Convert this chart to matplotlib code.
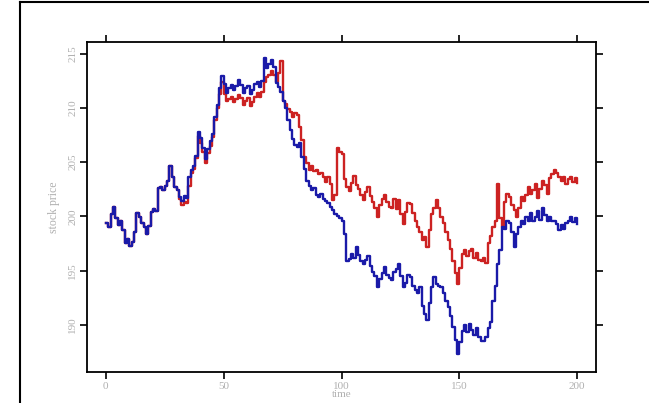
import numpy as np
import matplotlib.pyplot as plt
from matplotlib.lines import Line2D

# DATA
time = np.arange(0, 201)
blue_price = [
    199.4, 199.0, 200.2, 200.9, 199.8, 199.2, 199.6, 198.7, 197.5, 197.9,
    197.3, 197.6, 198.6, 200.3, 199.9, 199.4, 199.0, 198.4, 199.1, 200.4,
    200.7, 200.5, 202.6, 202.7, 202.4, 202.8, 203.3, 204.6, 203.6, 202.7,
    202.4, 201.8, 201.4, 201.9, 201.7, 203.6, 204.3, 204.6, 205.6, 207.8,
    207.2, 206.3, 205.3, 206.2, 206.9, 207.6, 209.2, 210.3, 211.8, 212.9,
    212.2, 211.4, 211.8, 212.1, 211.6, 212.0, 212.6, 212.1, 211.4, 211.8,
    212.0, 211.3, 211.6, 212.2, 212.4, 211.9, 212.5, 214.6, 213.7, 214.0,
    214.4, 213.8, 212.3, 211.9, 211.5, 210.6, 210.0, 208.9, 208.0, 207.1,
    206.6, 206.4, 206.8, 205.5, 204.4, 203.3, 202.8, 202.4, 202.6, 202.0,
    201.8, 202.1, 201.6, 201.4, 201.2, 200.9, 200.6, 200.2, 200.0, 199.8,
    199.6, 198.4, 195.9, 196.1, 196.5, 196.2, 197.2, 196.4, 195.9, 195.6,
    196.0, 196.3, 195.4, 194.9, 194.5, 193.5, 194.2, 194.8, 195.3, 194.6,
    194.3, 194.1, 194.9, 195.1, 195.6, 194.5, 193.5, 193.9, 194.6, 194.4,
    193.6, 193.2, 192.9, 193.5, 191.7, 191.0, 190.4, 192.0, 193.5, 194.4,
    193.8, 193.6, 193.5, 192.9, 192.2, 191.6, 190.8, 189.8, 188.6, 187.3,
    188.4, 189.4, 190.0, 189.3, 190.1, 189.5, 189.1, 189.7, 188.9, 188.5,
    188.5, 188.9, 189.7, 190.3, 192.2, 193.6, 195.6, 196.9, 199.0, 198.8,
    199.6, 199.4, 198.6, 197.2, 198.4, 199.0, 199.6, 199.3, 199.9, 199.6,
    200.3, 199.6, 199.9, 200.5, 199.7, 200.8, 200.1, 199.6, 199.9, 199.6,
    199.6, 199.3, 198.7, 199.2, 198.8, 199.4, 199.6, 199.9, 199.5, 199.8,
    199.3,
]
red_price = blue_price[:30] + [
    202.4, 201.6, 201.0, 201.3, 201.2, 202.8, 204.0, 204.4, 205.4, 207.4,
    206.8, 205.9, 204.9, 205.8, 206.5, 207.3, 208.9, 210.0, 211.3, 212.4,
    211.3, 210.6, 210.8, 211.0, 210.5, 210.8, 211.2, 210.9, 210.3, 210.6,
    210.9, 210.2, 210.5, 211.0, 211.4, 211.0, 211.5, 212.4, 212.8, 213.0,
    213.4, 213.0, 212.4, 213.2, 214.3, 210.6, 210.4, 209.9, 209.6, 209.2,
    209.5, 209.3, 208.2, 207.0, 205.5, 204.9, 204.3, 204.6, 204.2, 204.3,
    203.9, 204.0, 203.6, 203.2, 203.6, 203.0, 201.5, 202.0, 206.3, 205.9,
    205.7, 203.4, 202.7, 202.3, 203.1, 203.7, 202.9, 202.5, 202.0, 201.5,
    202.2, 202.7, 201.9, 201.3, 200.8, 199.9, 201.0, 201.6, 202.0, 201.3,
    200.9, 200.8, 201.6, 200.7, 201.5, 200.2, 199.3, 200.4, 201.2, 201.1,
    200.3, 199.6, 199.0, 198.6, 197.8, 198.1, 197.2, 198.7, 200.2, 200.8,
    201.5, 200.8, 199.9, 199.4, 198.6, 197.8, 197.0, 195.9, 194.8, 193.8,
    195.2, 196.5, 196.9, 196.3, 196.8, 197.0, 196.2, 196.6, 196.0, 195.9,
    196.2, 195.7, 197.5, 198.2, 199.0, 199.6, 203.0, 199.8, 199.0, 201.3,
    202.1, 201.8, 201.0, 200.6, 199.9, 200.8, 201.8, 201.4, 202.0, 202.7,
    202.1, 202.4, 203.0, 201.7, 202.5, 203.3, 202.9, 202.1, 203.5, 203.9,
    204.3, 204.0, 203.6, 203.3, 203.6, 203.0, 203.4, 203.6, 203.2, 203.5,
    203.1,
]
x_ticks = [0, 50, 100, 150, 200]
y_ticks = [190, 195, 200, 205, 210, 215]

plt.rcParams['font.family'] = ['Liberation Serif', 'DejaVu Serif']

fig = plt.figure(figsize=(6.49, 4.03), dpi=100)
ax = fig.add_axes([87 / 649, 1 - 372 / 403, (596 - 87) / 649, (372 - 42) / 403])

ax.plot(time, red_price, color='#cc2222', lw=1.7, drawstyle='steps-post')
ax.plot(time, blue_price, color='#1a1aa8', lw=1.7, drawstyle='steps-post')

ax.set_xlim(-8, 208)
ax.set_ylim(185.65, 216.07)
ax.set_xticks(x_ticks)
ax.set_yticks(y_ticks)
ax.tick_params(direction='out', length=5, width=1.2, color='black',
               labelcolor='#b0b0b0', labelsize=8, pad=2,
               top=True, right=True, labeltop=False, labelright=False)
for lab in ax.get_yticklabels():
    lab.set_rotation(90)
    lab.set_va('center')
for s in ax.spines.values():
    s.set_linewidth(1.3)

ax.set_xlabel('time', color='#b0b0b0', fontsize=8)
ax.xaxis.set_label_coords(0.5, -0.054)
ax.set_ylabel('stock price', color='#b0b0b0', fontsize=8.5, labelpad=6)

# outer frame (left and top edges of the original page)
fig.add_artist(Line2D([20 / 649, 20 / 649], [0, 1 - 2 / 403], color='black', lw=1.5))
fig.add_artist(Line2D([20 / 649, 1], [1 - 2 / 403, 1 - 2 / 403], color='black', lw=1.5))

plt.savefig('out.png', dpi=100)
